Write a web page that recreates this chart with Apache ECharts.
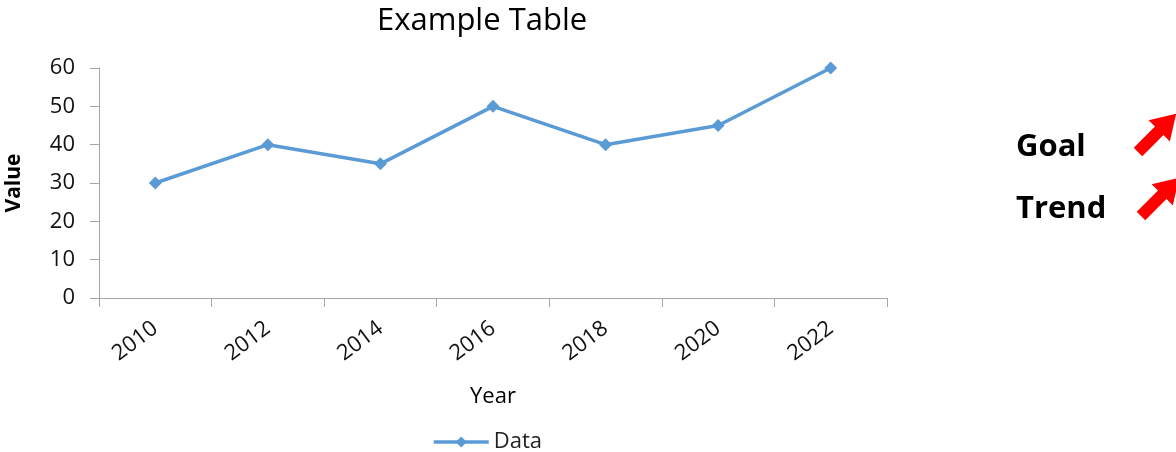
<!DOCTYPE html>
<html>
<head>
<meta charset="utf-8">
<script src="https://cdn.jsdelivr.net/npm/echarts@6/dist/echarts.min.js"></script>
<style>
html,body{margin:0;padding:0;background:#fff;}
#chart{width:1176px;height:452px;}
</style>
</head>
<body>
<div id="chart"></div>
<script>
var years = ['2010', '2012', '2014', '2016', '2018', '2020', '2022'];
var values = [30, 40, 35, 50, 40, 45, 60];
var sideLabels = ['Goal', 'Trend'];

var FONT = '"Open Sans", Lato, sans-serif';

function arrow(tx, ty) {
  var a = Math.PI / 4;
  var dx = Math.cos(a), dy = -Math.sin(a);
  var nx = Math.sin(a), ny = Math.cos(a);
  var sw = 6, L = 30, hw = 15, hl = 24;
  var sx = tx + dx * L, sy = ty + dy * L;
  return [
    [tx + nx * sw, ty + ny * sw],
    [tx - nx * sw, ty - ny * sw],
    [sx - nx * sw, sy - ny * sw],
    [sx - nx * hw, sy - ny * hw],
    [sx + dx * hl, sy + dy * hl],
    [sx + nx * hw, sy + ny * hw],
    [sx + nx * sw, sy + ny * sw]
  ];
}

var chart = echarts.init(document.getElementById('chart'));
chart.setOption({
  backgroundColor: '#fff',
  animation: false,
  title: {
    text: 'Example Table',
    left: 372, top: 1,
    textStyle: { fontFamily: FONT, fontSize: 31, fontWeight: 'normal', color: '#000' }
  },
  legend: {
    data: ['Data'],
    left: 427, top: 426,
    itemWidth: 55, itemHeight: 14,
    lineStyle: { width: 3.5 },
    textStyle: { fontFamily: FONT, fontSize: 22, color: '#222' }
  },
  grid: { left: 99, right: 289, top: 68, bottom: 154, containLabel: false, outerBoundsMode: 'none' },
  xAxis: {
    type: 'category',
    data: years,
    boundaryGap: true,
    name: 'Year',
    nameLocation: 'middle',
    nameGap: 88,
    nameMoveOverlap: false,
    nameTextStyle: { fontFamily: FONT, fontSize: 22, color: '#000' },
    axisLine: { lineStyle: { color: '#a6a6a6', width: 1 } },
    axisTick: { show: true, length: 9, alignWithLabel: false, lineStyle: { color: '#a6a6a6' } },
    axisLabel: { rotate: 37, fontFamily: FONT, fontSize: 22, color: '#111', margin: 28 }
  },
  yAxis: {
    type: 'value',
    min: 0, max: 60, interval: 10,
    name: 'Value',
    nameLocation: 'middle',
    nameGap: 74,
    nameMoveOverlap: false,
    nameTextStyle: { fontFamily: FONT, fontSize: 21, fontWeight: 'bold', color: '#000' },
    axisLine: { show: true, lineStyle: { color: '#a6a6a6', width: 1 } },
    axisTick: { show: true, length: 9, lineStyle: { color: '#a6a6a6' } },
    axisLabel: { fontFamily: FONT, fontSize: 22, color: '#111', margin: 24 },
    splitLine: { show: false }
  },
  series: [{
    name: 'Data',
    type: 'line',
    data: values,
    symbol: 'diamond',
    symbolSize: 13,
    lineStyle: { color: '#5b9bd5', width: 3.5 },
    itemStyle: { color: '#5b9bd5' }
  }],
  graphic: [
    { type: 'text', x: 1016, y: 147, style: { text: sideLabels[0], font: 'bold 31px ' + FONT, fill: '#000', verticalAlign: 'middle' } },
    { type: 'text', x: 1016, y: 209, style: { text: sideLabels[1], font: 'bold 31px ' + FONT, fill: '#000', verticalAlign: 'middle' } },
    { type: 'polygon', shape: { points: arrow(1138, 152) }, style: { fill: '#ff0000' } },
    { type: 'polygon', shape: { points: arrow(1141, 216) }, style: { fill: '#ff0000' } }
  ]
});
</script>
</body>
</html>
